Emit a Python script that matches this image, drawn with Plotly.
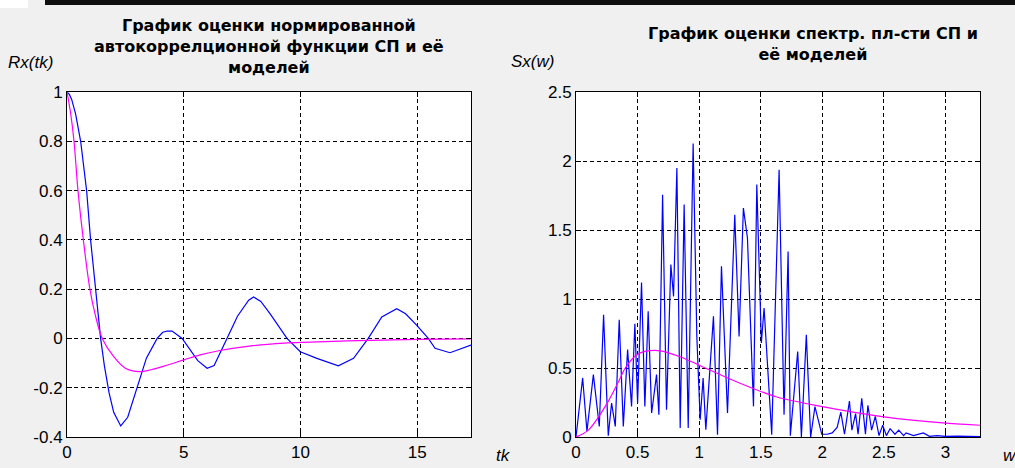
import plotly.graph_objects as go

# ---------------- data ----------------
# Left: normalized autocorrelation estimate (blue) and model (magenta)
tk_est = [0, 0.1, 0.2, 0.37, 0.585, 0.84, 1.01, 1.15, 1.3, 1.44, 1.6, 1.8, 2.0, 2.3, 2.6, 3.0, 3.4,
          3.86, 4.1, 4.29, 4.5, 4.93, 5.29, 5.6, 6.0, 6.3, 6.85, 7.3, 7.78, 7.99, 8.3, 8.7, 9.42,
          9.99, 10.7, 11.62, 12.27, 12.9, 13.48, 14.12, 14.5, 14.97, 15.47, 15.76, 16.4, 16.75, 17.3]
Rx_est = [1.0, 0.99, 0.97, 0.91, 0.80, 0.60, 0.40, 0.26, 0.12, 0.0, -0.11, -0.22, -0.30, -0.355, -0.32,
          -0.20, -0.08, 0.0, 0.025, 0.03, 0.03, 0.0, -0.047, -0.09, -0.121, -0.11, 0.0, 0.09, 0.155,
          0.168, 0.15, 0.10, 0.0, -0.054, -0.081, -0.111, -0.081, 0.0, 0.087, 0.121, 0.10, 0.054,
          0.0, -0.04, -0.058, -0.047, -0.027]

tk_mod = [0, 0.16, 0.3, 0.47, 0.7, 0.98, 1.2, 1.51, 2.0, 2.5, 3.1, 3.6, 4.3, 5.0, 5.7, 6.5,
          7.8, 9.3, 10.4, 12.0, 13.5, 15.0, 17.3]
Rx_mod = [1.0, 0.91, 0.80, 0.60, 0.40, 0.20, 0.10, 0.0, -0.074, -0.121, -0.135, -0.127, -0.108,
          -0.087, -0.067, -0.05, -0.031, -0.019, -0.015, -0.01, -0.007, -0.004, -0.002]

# Right: spectral density estimate (blue) and model (magenta)
w_est = [0, 0.054, 0.089, 0.141, 0.189, 0.224, 0.262, 0.289, 0.319, 0.351, 0.384, 0.419, 0.451,
         0.478, 0.5, 0.516, 0.532, 0.559, 0.586, 0.614, 0.654, 0.673, 0.703, 0.735, 0.77, 0.792,
         0.819, 0.846, 0.878, 0.911, 0.951, 0.981, 1.008, 1.032, 1.054, 1.116, 1.149, 1.181, 1.23,
         1.289, 1.324, 1.359, 1.392, 1.441, 1.468, 1.505, 1.527, 1.589, 1.649, 1.689, 1.722, 1.74,
         1.80, 1.83, 1.87, 1.905, 1.94, 1.995, 2.04, 2.08, 2.12, 2.15, 2.18, 2.22, 2.24, 2.27, 2.29,
         2.32, 2.35, 2.37, 2.40, 2.43, 2.46, 2.49, 2.52, 2.55, 2.59, 2.62, 2.66, 2.68, 2.74, 2.82,
         2.87, 2.93, 3.0, 3.1, 3.28]
S_est = [0, 0.428, 0.041, 0.452, 0.077, 0.886, 0.010, 0.246, 0.077, 0.850, 0.077, 0.633, 0.222,
         0.821, 0.246, 0.68, 1.12, 0.222, 0.911, 0.174, 0.452, 0.162, 1.756, 0.198, 1.249, 1.019,
         1.949, 0.065, 1.684, 0.065, 2.126, 0.729, 0.126, 0.428, 0.053, 0.874, 0.017, 1.237, 0.174,
         1.611, 0.729, 1.659, 1.442, 0.222, 1.829, 0.681, 0.935, 0.017, 1.937, 0.162, 1.345, 0.01,
         0.62, 0.0, 0.74, 0.0, 0.22, 0.02, 0.02, 0.03, 0.07, 0.18, 0.02, 0.26, 0.05, 0.17, 0.02,
         0.28, 0.02, 0.23, 0.05, 0.15, 0.01, 0.085, 0.01, 0.06, 0.02, 0.05, 0.01, 0.03, 0.01, 0.03,
         0.005, 0.01, 0.004, 0.006, 0.003]

w_mod = [0, 0.1, 0.25, 0.35, 0.4, 0.5, 0.64, 0.75, 0.85, 1.0, 1.25, 1.5, 1.63, 2.0, 2.5, 3.0, 3.28]
S_mod = [0, 0.05, 0.24, 0.41, 0.50, 0.60, 0.627, 0.61, 0.58, 0.52, 0.42, 0.33, 0.29, 0.22, 0.146,
         0.10, 0.085]

left_xticks = [0, 5, 10, 15]
left_xtext = ["0", "5", "10", "15"]
left_yticks = [-0.4, -0.2, 0, 0.2, 0.4, 0.6, 0.8, 1]
left_ytext = ["-0.4", "-0.2", "0", "0.2", "0.4", "0.6", "0.8", "1"]
right_xticks = [0, 0.5, 1, 1.5, 2, 2.5, 3]
right_xtext = ["0", "0.5", "1", "1.5", "2", "2.5", "3"]
right_yticks = [0, 0.5, 1, 1.5, 2, 2.5]
right_ytext = ["0", "0.5", "1", "1.5", "2", "2.5"]

title_left = "График оценки нормированной<br>автокоррелционной функции СП и её<br>моделей"
title_right = "График оценки спектр. пл-сти СП и<br>её моделей"

# ---------------- figure ----------------
W, H = 1015, 468
fig = go.Figure()

fig.add_trace(go.Scatter(x=tk_est, y=Rx_est, mode="lines", line=dict(color="#0000ff", width=1.2),
                         xaxis="x", yaxis="y", showlegend=False))
fig.add_trace(go.Scatter(x=tk_mod, y=Rx_mod, mode="lines", line=dict(color="#ff00ff", width=1.2, shape="spline"),
                         xaxis="x", yaxis="y", showlegend=False))
fig.add_trace(go.Scatter(x=w_est, y=S_est, mode="lines", line=dict(color="#0000ff", width=1.2),
                         xaxis="x2", yaxis="y2", showlegend=False))
fig.add_trace(go.Scatter(x=w_mod, y=S_mod, mode="lines", line=dict(color="#ff00ff", width=1.2, shape="spline"),
                         xaxis="x2", yaxis="y2", showlegend=False))

def px_x(p):
    return p / W

def px_y(p):
    return 1 - p / H

tickfont = dict(family="Liberation Sans, Arial", size=17, color="#000000")
axcommon = dict(showline=True, linecolor="#000000", linewidth=1, mirror="ticks", ticks="inside",
                ticklen=5, tickcolor="#000000", showgrid=True, gridcolor="#000000", gridwidth=1,
                griddash="4px,3px", zeroline=False, tickfont=tickfont, fixedrange=True,
                automargin=False)

fig.update_layout(
    width=W, height=H,
    margin=dict(l=0, r=0, t=0, b=0, autoexpand=False),
    paper_bgcolor="#f0f0f0", plot_bgcolor="#ffffff",
    xaxis=dict(domain=[px_x(67), px_x(471)], range=[0, 17.3], tickvals=left_xticks, ticktext=left_xtext,
               anchor="y", **axcommon),
    yaxis=dict(domain=[px_y(437), px_y(92)], range=[-0.4, 1], tickvals=left_yticks, ticktext=left_ytext,
               anchor="x", **axcommon),
    xaxis2=dict(domain=[px_x(576), px_x(980)], range=[0, 3.28], tickvals=right_xticks, ticktext=right_xtext,
                anchor="y2", **axcommon),
    yaxis2=dict(domain=[px_y(437), px_y(92)], range=[0, 2.5], tickvals=right_yticks, ticktext=right_ytext,
                anchor="x2", **axcommon),
    shapes=[
        dict(type="rect", xref="paper", yref="paper", x0=0, x1=px_x(28), y0=px_y(8), y1=1,
             fillcolor="#ffffff", line=dict(width=0), layer="above"),
        dict(type="rect", xref="paper", yref="paper", x0=px_x(45), x1=1, y0=px_y(5), y1=1,
             fillcolor="#101010", line=dict(width=0), layer="above"),
    ],
)

titlefont = dict(family="DejaVu Sans", size=16, color="#000000")
labelfont = dict(family="Liberation Sans, Arial", size=17, color="#000000")
fig.add_annotation(text="<b>" + title_left + "</b>", xref="paper", yref="paper", x=px_x(269), y=px_y(47),
                   showarrow=False, font=titlefont, align="center", xanchor="center", yanchor="middle")
fig.add_annotation(text="<b>" + title_right + "</b>", xref="paper", yref="paper", x=px_x(813), y=px_y(44),
                   showarrow=False, font=titlefont, align="center", xanchor="center", yanchor="middle")
fig.add_annotation(text="<i>Rx(tk)</i>", xref="paper", yref="paper", x=px_x(6), y=px_y(63),
                   showarrow=False, font=labelfont, xanchor="left", yanchor="middle")
fig.add_annotation(text="<i>Sx(w)</i>", xref="paper", yref="paper", x=px_x(509), y=px_y(62),
                   showarrow=False, font=labelfont, xanchor="left", yanchor="middle")
fig.add_annotation(text="<i>tk</i>", xref="paper", yref="paper", x=px_x(494), y=px_y(455),
                   showarrow=False, font=labelfont, xanchor="left", yanchor="middle")
fig.add_annotation(text="<i>w</i>", xref="paper", yref="paper", x=px_x(1001), y=px_y(455),
                   showarrow=False, font=labelfont, xanchor="left", yanchor="middle")

fig.write_html(
    "out.html",
    config={"displayModeBar": False},
    post_script="document.body.style.margin='0';document.body.style.overflow='hidden';",
)
